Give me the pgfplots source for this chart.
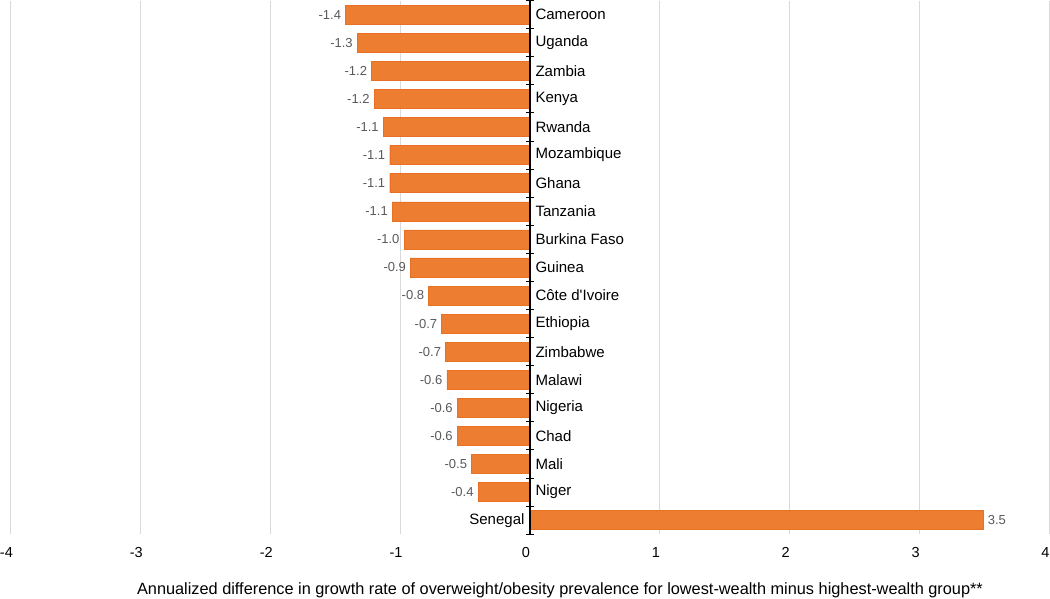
\documentclass[border=0pt]{standalone}
\usepackage{pgfplots}
\pgfplotsset{compat=1.18}
\usepackage{pgfplotstable}
\usepackage{fontspec}
\setmainfont[Ligatures=TeXOff]{Liberation Sans}
\definecolor{barorange}{RGB}{237,125,49}
\definecolor{baredge}{RGB}{232,112,34}
\definecolor{valgray}{RGB}{89,89,89}
\definecolor{gridgray}{RGB}{217,217,217}

\pgfplotstableread[col sep=comma]{
idx,name,value,label
0,Cameroon,-1.42,-1.4
1,Uganda,-1.33,-1.3
2,Zambia,-1.22,-1.2
3,Kenya,-1.20,-1.2
4,Rwanda,-1.13,-1.1
5,Mozambique,-1.08,-1.1
6,Ghana,-1.08,-1.1
7,Tanzania,-1.06,-1.1
8,Burkina Faso,-0.97,-1.0
9,Guinea,-0.92,-0.9
10,Côte d'Ivoire,-0.78,-0.8
11,Ethiopia,-0.68,-0.7
12,Zimbabwe,-0.65,-0.7
13,Malawi,-0.64,-0.6
14,Nigeria,-0.56,-0.6
15,Chad,-0.56,-0.6
16,Mali,-0.45,-0.5
17,Niger,-0.40,-0.4
}\negdata

\pgfplotstableread[col sep=comma]{
idx,name,value,label
18,Senegal,3.49,3.5
}\posdata

\begin{document}
\begin{tikzpicture}
\begin{axis}[
  scale only axis, width=1038bp, height=533bp,
  xmin=-4, xmax=4, ymin=-0.5, ymax=18.5, y dir=reverse,
  axis line style={draw=none},
  xtick={-4,-3,-2,-1,0,1,2,3,4},
  xticklabels={-4,-3,-2,-1,0,1,2,3,4},
  ytick=\empty,
  major tick length=0pt,
  xmajorgrids, grid style={gridgray, line width=1bp},
  xticklabel style={font=\fontsize{14.5bp}{17bp}\selectfont, inner sep=0pt, xshift=-4bp, yshift=-13bp},
  xlabel={Annualized difference in growth rate of overweight/obesity prevalence for lowest-wealth minus highest-wealth group**},
  xlabel style={font=\fontsize{16.3bp}{19bp}\selectfont, inner sep=0pt, yshift=-25bp, xshift=30bp},
  clip=false,
]
\addplot[xbar, bar width=19bp, bar shift=0pt, fill=barorange, draw=baredge,
  nodes near coords, point meta=explicit symbolic,
  every node near coord/.append style={anchor=east, text=valgray, font=\fontsize{13bp}{15bp}\selectfont, xshift=-1bp}]
  table[x=value, y=idx, meta=label]{\negdata};
\addplot[xbar, bar width=19bp, bar shift=0pt, fill=barorange, draw=baredge,
  nodes near coords, point meta=explicit symbolic,
  every node near coord/.append style={anchor=west, text=valgray, font=\fontsize{13bp}{15bp}\selectfont, xshift=1bp}]
  table[x=value, y=idx, meta=label]{\posdata};
\addplot[draw=none, mark=none, nodes near coords, point meta=explicit symbolic,
  every node near coord/.append style={anchor=west, text=black, font=\fontsize{15bp}{18bp}\selectfont, xshift=2bp}]
  table[x expr=0, y=idx, meta=name]{\negdata};
\addplot[draw=none, mark=none, nodes near coords, point meta=explicit symbolic,
  every node near coord/.append style={anchor=east, text=black, font=\fontsize{15bp}{18bp}\selectfont, xshift=-2bp}]
  table[x expr=0, y=idx, meta=name]{\posdata};
\draw[black, line width=1.3bp] (axis cs:0,-0.5) -- (axis cs:0,18.5);
\pgfplotsinvokeforeach{-0.5,0.5,...,18.5}{\draw[black, line width=1bp] ([xshift=-4bp]axis cs:0,#1) -- ([xshift=4bp]axis cs:0,#1);}
\end{axis}
\end{tikzpicture}
\end{document}
